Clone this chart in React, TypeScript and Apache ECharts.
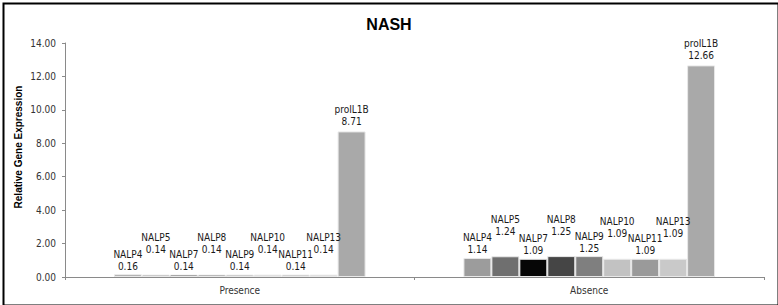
import React, { useEffect, useRef } from "react";
import * as echarts from "echarts";

// Groups on the category axis
const groups = ["Presence", "Absence"];

// One series per gene, in drawing order
const genes = ["NALP4", "NALP5", "NALP7", "NALP8", "NALP9", "NALP10", "NALP11", "NALP13", "proIL1B"];

// Relative expression per gene, for each group
const presenceValues = [0.16, 0.14, 0.14, 0.14, 0.14, 0.14, 0.14, 0.14, 8.71];
const absenceValues = [1.14, 1.24, 1.09, 1.25, 1.25, 1.09, 1.09, 1.09, 12.66];

// Grey fill per gene
const geneColors = ["#9c9c9c", "#6f6f6f", "#060606", "#454545", "#7f7f7f", "#c2c2c2", "#9a9a9a", "#c9c9c9", "#a9a9a9"];

// Genes whose labels sit one step higher so neighbours do not collide
const raisedLabels = ["NALP5", "NALP8", "NALP10", "NALP13"];

const labelFont = "'Liberation Sans Narrow', 'DejaVu Sans Condensed', 'Liberation Sans', sans-serif";
const titleFont = "'Liberation Sans', Arial, sans-serif";

export default function App() {
  const ref = useRef<HTMLDivElement>(null);

  useEffect(() => {
    if (!ref.current) return;
    const chart = echarts.init(ref.current, undefined, { renderer: "svg" });

    const series = genes.map((gene, i) => ({
      name: gene,
      type: "bar",
      barGap: "0%",
      barCategoryGap: "28%",
      data: [presenceValues[i], absenceValues[i]],
      itemStyle: {
        color: geneColors[i],
        borderColor: "#e8e8e8",
        borderWidth: 1,
      },
      label: {
        show: true,
        position: "top",
        distance: gene === "proIL1B" ? 4 : 2,
        offset: raisedLabels.includes(gene) ? [0, -17] : [0, 0],
        formatter: (p: any) => `${p.seriesName}\n${Number(p.value).toFixed(2)}`,
        fontFamily: labelFont,
        fontSize: 10,
        lineHeight: 12,
        color: "#1a1a1a",
      },
    }));

    chart.setOption({
      animation: false,
      backgroundColor: "#ffffff",
      title: {
        text: "NASH",
        left: "center",
        top: 11,
        textStyle: { fontFamily: titleFont, fontSize: 16, fontWeight: "bold", color: "#000" },
      },
      grid: { left: 65, right: 14, top: 43, bottom: 28, containLabel: false },
      xAxis: {
        type: "category",
        data: groups,
        axisLine: { lineStyle: { color: "#8a8a8a", width: 1 } },
        axisTick: { show: true, length: 3, lineStyle: { color: "#8a8a8a" } },
        axisLabel: { fontFamily: labelFont, fontSize: 10, color: "#333", margin: 8 },
      },
      yAxis: {
        type: "value",
        min: 0,
        max: 14,
        interval: 2,
        splitLine: { show: false },
        axisLine: { show: true, lineStyle: { color: "#8a8a8a", width: 1 } },
        axisTick: { show: true, length: 3, lineStyle: { color: "#8a8a8a" } },
        axisLabel: {
          fontFamily: labelFont,
          fontSize: 10,
          color: "#333",
          margin: 9,
          formatter: (v: number) => v.toFixed(2),
        },
      },
      graphic: [
        {
          type: "rect",
          left: 1,
          top: 1,
          shape: { x: 0, y: 0, width: 775, height: 302 },
          style: { fill: "none", stroke: "#000", lineWidth: 2 },
          silent: true,
        },
        {
          type: "text",
          x: 18,
          y: 147,
          rotation: Math.PI / 2,
          style: {
            text: "Relative Gene Expression",
            fontFamily: titleFont,
            fontSize: 10,
            fontWeight: "bold",
            fill: "#000",
            align: "center",
            verticalAlign: "middle",
          },
        },
      ],
      series,
    });

    return () => chart.dispose();
  }, []);

  return (
    <div
      ref={ref}
      style={{ position: "absolute", left: 0, top: 0, width: 778, height: 305 }}
    />
  );
}
